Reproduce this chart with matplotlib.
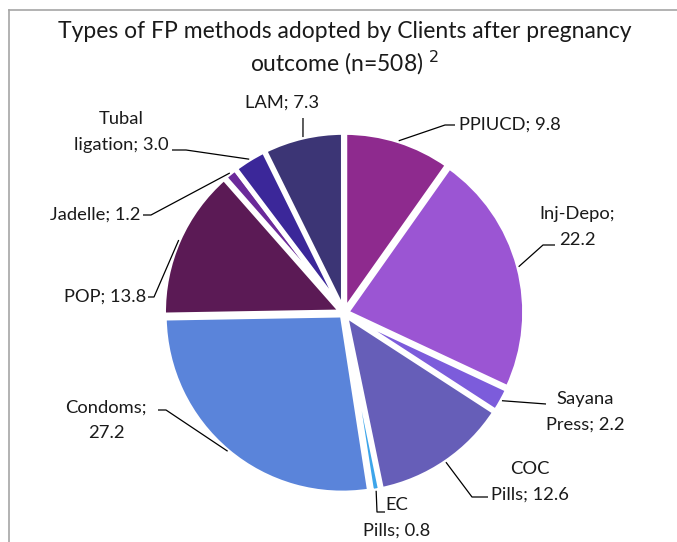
import numpy as np
import matplotlib.pyplot as plt

plt.rcParams['font.family'] = ['Lato', 'DejaVu Sans']

methods = ['PPIUCD', 'Inj-Depo', 'Sayana Press', 'COC Pills', 'EC Pills',
           'Condoms', 'POP', 'Jadelle', 'Tubal ligation', 'LAM']
shares = [9.8, 22.2, 2.2, 12.6, 0.8, 27.2, 13.8, 1.2, 3.0, 7.3]
label_texts = ['PPIUCD; 9.8', 'Inj-Depo;\n22.2', 'Sayana\nPress; 2.2', 'COC\nPills; 12.6',
               'EC\nPills; 0.8', 'Condoms;\n27.2', 'POP; 13.8', 'Jadelle; 1.2',
               'Tubal\nligation; 3.0', 'LAM; 7.3']
colors = ['#8E2A8E', '#9B55D3', '#7C5CDB', '#665EB8', '#3DA5EA',
          '#5A84DA', '#5B1A55', '#6B2A9A', '#3B2799', '#3C3575']

W, H = 677, 542
cx, cy, R = 344, 313, 178

def px(x, y):
    return ((x - cx) / R, (cy - y) / R)

fig = plt.figure(figsize=(W / 100, H / 100), dpi=100)
ax = fig.add_axes([0, 0, 1, 1])
explode = 0.015
ax.pie(shares, colors=colors, startangle=90, counterclock=False,
       explode=[explode] * len(shares),
       wedgeprops=dict(edgecolor='white', linewidth=3.5))
ax.set_xlim(-cx / R, (W - cx) / R)
ax.set_ylim((cy - H) / R, cy / R)
ax.set_aspect('auto')
ax.axis('off')

# label layout in pixels: text position, alignment, leader start, elbow
layout = [
    ((459, 125), 'left', (455, 125), (445, 125)),
    ((577, 227), 'center', (555, 245), (543, 245)),
    ((585, 412), 'center', (546, 404), (546, 404)),
    ((530, 482), 'center', (488, 497), (472, 497)),
    ((397, 518), 'center', (385, 512), (377, 512)),
    ((106, 420), 'center', (158, 410), (166, 410)),
    ((146, 297), 'right', (148, 297), (154, 297)),
    ((141, 215), 'right', (143, 215), (151, 215)),
    ((121, 132), 'center', (172, 150), (186, 150)),
    ((282, 103), 'center', (303, 118), (303, 118)),
]

total = sum(shares)
cum = 0.0
for i, v in enumerate(shares):
    mid = np.deg2rad(90 - 360 * (cum + v / 2) / total)
    cum += v
    ax_, ay_ = (1 + explode) * np.cos(mid), (1 + explode) * np.sin(mid)
    (tx, ty), ha, start, elbow = layout[i]
    s = px(*start)
    e = px(*elbow)
    ax.plot([s[0], e[0], ax_], [s[1], e[1], ay_], color='black', lw=0.9,
            solid_capstyle='butt')
    t = px(tx, ty)
    ax.text(t[0], t[1], label_texts[i], ha=ha, va='center', fontsize=13.2,
            color='#1a1a1a', multialignment='center', linespacing=1.7)

fig.text(345 / W, 1 - 49 / H, 'Types of FP methods adopted by Clients after pregnancy\noutcome (n=508) $^{2}$',
         ha='center', va='center', fontsize=16.5, color='#1a1a1a', linespacing=1.3)

# frame lines
fig.add_artist(plt.Line2D([9 / W, 1], [1 - 10 / H, 1 - 10 / H], color='#a6a6a6', lw=1.2))
fig.add_artist(plt.Line2D([9 / W, 9 / W], [0, 1 - 10 / H], color='#a6a6a6', lw=1.2))

fig.savefig('out.png', dpi=100)
